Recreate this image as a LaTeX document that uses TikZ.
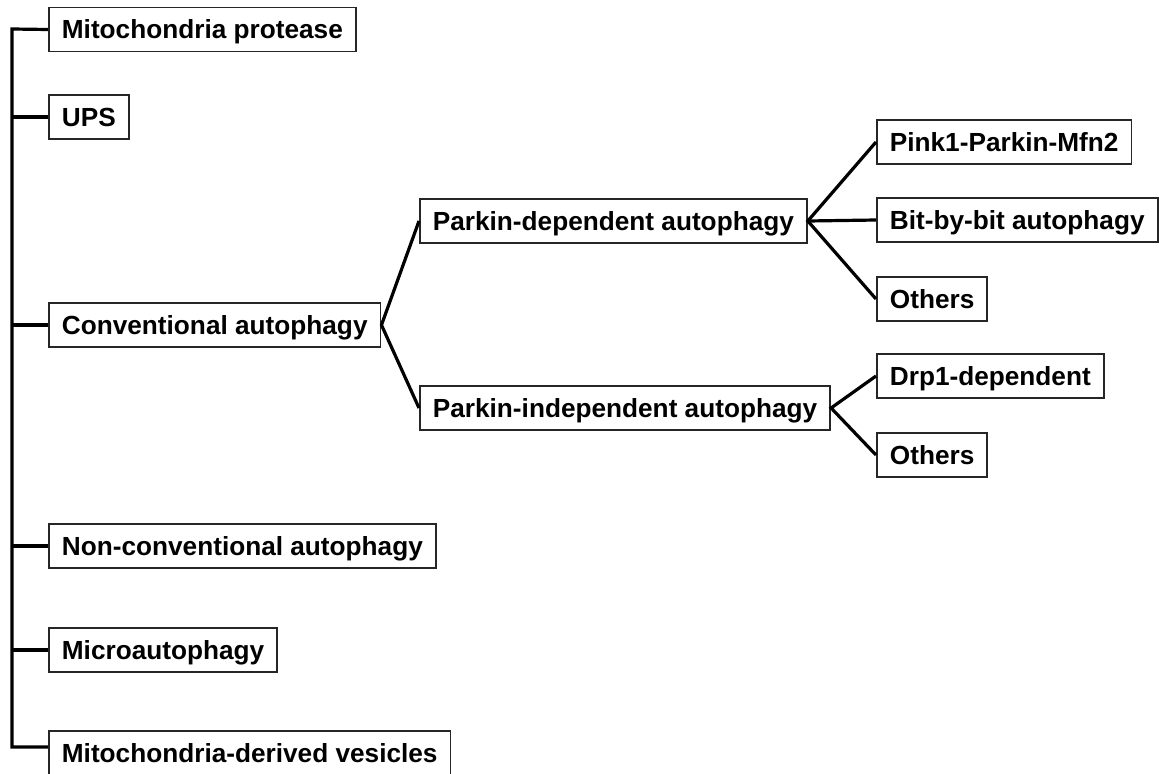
\documentclass[tikz,border=0pt]{standalone}
\usepackage{fontspec}
\setmainfont{Liberation Sans}
\begin{document}
\begin{tikzpicture}[x=1pt,y=-1pt,
  box/.style={draw=black!85,line width=1.8pt,fill=white,anchor=west,inner xsep=13pt,inner ysep=0pt,minimum height=44pt,text height=24pt,text depth=5.4pt,font=\fontsize{26.2}{30}\selectfont\bfseries},
  conn/.style={line width=3.2pt,black,line join=miter}]
\useasboundingbox[fill=white] (0,0) rectangle (1160,774);
\node[box] (mp) at (48,29.5) {Mitochondria protease};
\node[box] (ups) at (48,117) {UPS};
\node[box] (conv) at (48,325) {Conventional autophagy};
\node[box] (nonconv) at (48,546) {Non-conventional autophagy};
\node[box] (micro) at (48,650) {Microautophagy};
\node[box] (mdv) at (48,753) {Mitochondria-derived vesicles};
\node[box] (pd) at (419,221) {Parkin-dependent autophagy};
\node[box] (pi) at (419,408) {Parkin-independent autophagy};
\node[box] (pink) at (876,142) {Pink1-Parkin-Mfn2};
\node[box] (bit) at (876,220) {Bit-by-bit autophagy};
\node[box] (oth1) at (876,299) {Others};
\node[box] (drp) at (876,376) {Drp1-dependent};
\node[box] (oth2) at (876,455) {Others};
\coordinate (top) at (12,29);
\coordinate (bottom) at (12,747);
\draw[conn] (mp.west) -- (top) -- (bottom) -- (mdv.west |- bottom);
\draw[conn] (ups.west -| top) -- (ups.west);
\draw[conn] (conv.west -| top) -- (conv.west);
\draw[conn] (nonconv.west -| top) -- (nonconv.west);
\draw[conn] (micro.west -| top) -- (micro.west);
\draw[conn] (pd.west) -- (conv.east) -- (pi.west);
\draw[conn] (pink.west) -- (pd.east) -- (oth1.west);
\draw[conn] (pd.east) -- (bit.west);
\draw[conn] (drp.west) -- (pi.east) -- (oth2.west);
\end{tikzpicture}
\end{document}
